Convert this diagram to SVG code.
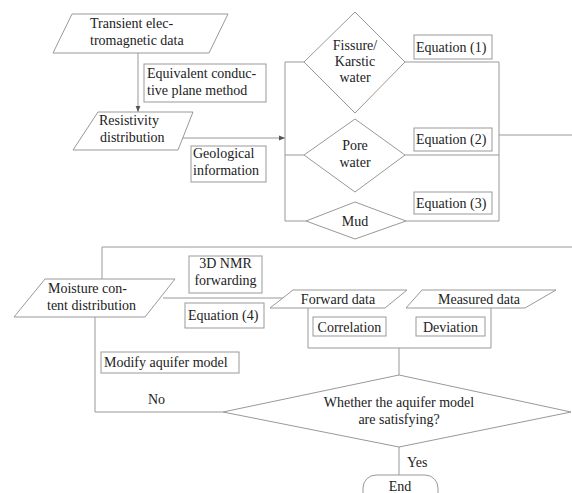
<svg xmlns="http://www.w3.org/2000/svg" width="572" height="493" viewBox="0 0 572 493">
<style>
.s{fill:#fff;stroke:#999;stroke-width:1}
.l{fill:none;stroke:#999;stroke-width:1}
text{font-family:"Liberation Serif","Times New Roman",serif;font-size:14px;fill:#222}
.c{text-anchor:middle}
</style>
<defs>
<marker id="ah" viewBox="0 0 10 10" refX="10" refY="5" markerWidth="6" markerHeight="6" orient="auto" markerUnits="userSpaceOnUse">
<path d="M0,1 L10,5 L0,9 z" fill="#555"/>
</marker>
</defs>
<rect width="572" height="493" fill="#fff"/>
<g id="connectors">
<path class="l" d="M138,53 V112" marker-end="url(#ah)"/>
<path class="l" d="M179,138 H285" marker-end="url(#ah)"/>
<path class="l" d="M285,62 V221 M285,62 H304 M285,155 H304 M285,221 H306"/>
<path class="l" d="M405,62 H499 M405,155 H499 M406,221 H499 M499,62 V221 M499,135 H572"/>
<path class="l" d="M572,247 H102 V298 M163,298 H283"/>
<path class="l" d="M308,308 V348 H491 V308 M399,348 V375"/>
<path class="l" d="M223,412 H95 V317"/>
<path class="l" d="M399,447 V475"/>
</g>
<g id="tem">
<polygon class="s" points="72,14 228,14 209,53 53,53"/>
<text x="90" y="28">Transient elec-</text>
<text x="90" y="45">tromagnetic data</text>
</g>
<g id="ecpm">
<rect class="s" x="144" y="64" width="122" height="38"/>
<text x="147" y="78">Equivalent conduc-</text>
<text x="147" y="95">tive plane method</text>
</g>
<g id="resistivity">
<polygon class="s" points="98,112 193,112 178,150 73,150"/>
<text x="99" y="125">Resistivity</text>
<text x="100" y="142">distribution</text>
</g>
<g id="geo">
<rect class="s" x="191" y="146" width="75" height="36"/>
<text x="193" y="158">Geological</text>
<text x="193" y="175">information</text>
</g>
<g id="fissure">
<polygon class="s" points="355,12 405,62 355,113 304,62"/>
<text class="c" x="355" y="50">Fissure/</text>
<text class="c" x="355" y="66">Karstic</text>
<text class="c" x="355" y="82">water</text>
</g>
<g id="pore">
<polygon class="s" points="355,119 405,155 355,192 304,155"/>
<text class="c" x="355" y="150">Pore</text>
<text class="c" x="355" y="167">water</text>
</g>
<g id="mud">
<polygon class="s" points="355,202 406,221 355,239 306,221"/>
<text class="c" x="355" y="226">Mud</text>
</g>
<g id="eq1">
<rect class="s" x="414" y="35" width="78" height="24"/>
<text x="416" y="52">Equation (1)</text>
</g>
<g id="eq2">
<rect class="s" x="414" y="128" width="78" height="23"/>
<text x="416" y="144">Equation (2)</text>
</g>
<g id="eq3">
<rect class="s" x="414" y="192" width="78" height="22"/>
<text x="416" y="208">Equation (3)</text>
</g>
<g id="moisture">
<polygon class="s" points="45,279 175,279 145,317 14,317"/>
<text x="48" y="293">Moisture con-</text>
<text x="47" y="310">tent distribution</text>
</g>
<g id="nmr">
<rect class="s" x="189" y="256" width="73" height="37"/>
<text class="c" x="225.500" y="268">3D NMR</text>
<text class="c" x="225.500" y="285">forwarding</text>
</g>
<g id="eq4">
<rect class="s" x="185" y="303" width="79" height="25"/>
<text x="188" y="320">Equation (4)</text>
</g>
<g id="forward">
<polygon class="s" points="293,290 407,290 385,308 270,308"/>
<text class="c" x="338" y="304">Forward data</text>
</g>
<g id="measured">
<polygon class="s" points="422,290 556,290 525,308 406,308"/>
<text class="c" x="479" y="304">Measured data</text>
</g>
<g id="correlation">
<rect class="s" x="313" y="317" width="73" height="19"/>
<text class="c" x="349.500" y="332">Correlation</text>
</g>
<g id="deviation">
<rect class="s" x="416" y="317" width="69" height="19"/>
<text class="c" x="450.500" y="332">Deviation</text>
</g>
<g id="modify">
<rect class="s" x="101" y="352" width="138" height="21"/>
<text x="104" y="367">Modify aquifer model</text>
</g>
<g id="decision">
<polygon class="s" points="399,375 571,412 399,447 223,412"/>
<text class="c" x="399" y="407">Whether the aquifer model</text>
<text class="c" x="399" y="424">are satisfying?</text>
</g>
<g id="labels">
<text x="148" y="404">No</text>
<text x="407" y="467">Yes</text>
</g>
<g id="end">
<rect class="s" x="363" y="475" width="75" height="32" rx="13"/>
<text class="c" x="400" y="491">End</text>
</g>
</svg>
